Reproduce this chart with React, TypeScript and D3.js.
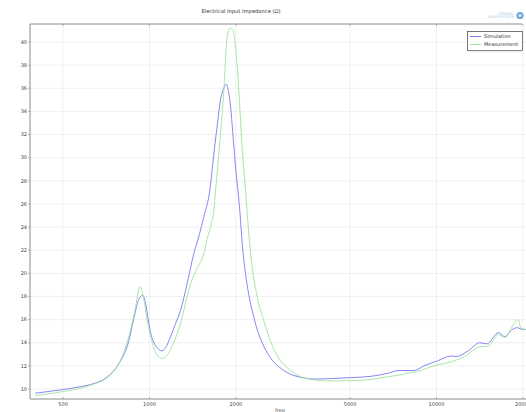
import React from "react";
import * as d3 from "d3";

const simFreq = [400, 450, 500, 560, 645, 700, 755, 800, 844, 880, 916, 947, 969, 990, 1011, 1048, 1106, 1140, 1183, 1230, 1283, 1352, 1427, 1490, 1547, 1623, 1677, 1730, 1768, 1820, 1853, 1885, 1917, 1960, 2000, 2066, 2107, 2160, 2220, 2300, 2376, 2440, 2577, 2717, 2830, 3030, 3460, 3750, 4300, 5000, 5930, 6750, 7400, 7716, 8340, 9050, 10000, 11250, 11700, 12900, 14150, 14950, 16450, 17350, 18000, 19070, 20000, 20500];
const simValues = [9.63, 9.8, 9.95, 10.15, 10.5, 10.9, 11.65, 12.6, 14.0, 16.0, 17.7, 18.1, 17.4, 16.0, 14.8, 13.8, 13.3, 13.6, 14.5, 15.6, 16.8, 19.1, 21.7, 23.3, 24.9, 27.2, 30.4, 33.2, 35.0, 36.1, 36.35, 35.7, 34.4, 31.5, 28.9, 25.3, 22.4, 20.0, 18.1, 16.4, 15.1, 14.3, 13.1, 12.3, 11.9, 11.4, 10.95, 10.86, 10.9, 10.98, 11.1, 11.35, 11.6, 11.6, 11.6, 12.0, 12.4, 12.85, 12.8, 13.3, 14.0, 13.9, 14.87, 14.5, 14.95, 15.3, 15.15, 15.15];

const measFreq = [400, 450, 500, 560, 645, 700, 755, 800, 844, 890, 927, 955, 981, 1011, 1048, 1106, 1150, 1183, 1283, 1390, 1470, 1547, 1590, 1631, 1677, 1700, 1760, 1819, 1860, 1910, 1950, 2025, 2107, 2163, 2193, 2254, 2376, 2509, 2717, 2870, 3030, 3190, 3460, 4170, 5000, 5930, 6750, 7400, 7900, 8500, 10000, 11250, 12500, 14150, 15100, 16450, 17350, 18200, 19230, 19700, 20500];
const measValues = [9.42, 9.6, 9.78, 10.0, 10.45, 10.85, 11.6, 12.7, 14.4, 16.8, 18.85, 17.8, 16.0, 14.5, 13.2, 12.65, 12.9, 13.4, 15.7, 19.1, 20.5, 21.7, 23.0, 24.0, 25.5, 27.2, 31.5, 36.1, 40.2, 41.2, 41.1, 37.6, 30.6, 27.0, 25.0, 21.6, 17.9, 15.8, 13.4, 12.4, 11.8, 11.4, 10.95, 10.7, 10.72, 10.83, 11.06, 11.2, 11.35, 11.5, 12.07, 12.35, 12.8, 13.65, 13.7, 14.7, 14.47, 15.25, 16.0, 15.25, 15.15];

const xTicks = [500, 1000, 2000, 5000, 10000, 20000];
const yTicks = [10, 12, 14, 16, 18, 20, 22, 24, 26, 28, 30, 32, 34, 36, 38, 40];
const seriesNames = ["Simulation", "Measurement"];
const titleText = "Electrical Input Impedance (\u03A9)";
const xLabel = "freq";

const W = 526;
const H = 412;
const left = 30;
const right = 526;
const top = 24;
const bottom = 399;

export default function App() {
  const x = d3.scaleLog().domain([383.5, 20500]).range([left, right]);
  const y = d3.scaleLinear().domain([9.135, 41.56]).range([bottom, top]);

  const line = d3
    .line<[number, number]>()
    .x((d) => x(d[0]))
    .y((d) => y(d[1]))
    .curve(d3.curveMonotoneX);

  const sim = simFreq.map((f, i) => [f, simValues[i]] as [number, number]);
  const meas = measFreq.map((f, i) => [f, measValues[i]] as [number, number]);

  const font = "DejaVu Sans, sans-serif";
  const colors = ["#7878f4", "#9de39d"];

  return (
    <svg
      width={W}
      height={H}
      style={{ position: "absolute", left: 0, top: 0, background: "#fff" }}
      fontFamily={font}
    >
      <rect x={0} y={0} width={W} height={H} fill="#fff" />
      {/* title */}
      <text x={241} y={13} fontSize={5.2} textAnchor="middle" fill="#333">
        {titleText}
      </text>
      {/* logo */}
      <text x={514} y={14.5} fontSize={3.6} textAnchor="end" fill="#a9c9e8">
        COMSOL
      </text>
      <text x={514} y={18.3} fontSize={3.6} textAnchor="end" fill="#a9c9e8">
        MULTIPHYSICS
      </text>
      <circle cx={520} cy={15.5} r={3.6} fill="#6aa6d8" />
      <circle cx={520} cy={15.5} r={1.6} fill="#d8eaf8" />

      {/* grid */}
      {yTicks.map((t) => (
        <line key={"gy" + t} x1={left} x2={right} y1={y(t)} y2={y(t)} stroke="#ececec" strokeWidth={0.8} />
      ))}
      {xTicks.map((t) => (
        <line key={"gx" + t} x1={x(t)} x2={x(t)} y1={top} y2={bottom} stroke="#ececec" strokeWidth={0.8} />
      ))}

      {/* curves */}
      <path d={line(sim) || ""} fill="none" stroke={colors[0]} strokeWidth={0.9} />
      <path d={line(meas) || ""} fill="none" stroke={colors[1]} strokeWidth={0.9} />

      {/* frame */}
      <line x1={left} x2={left} y1={top} y2={bottom} stroke="#8a8a8a" strokeWidth={1} />
      <line x1={left} x2={right} y1={bottom} y2={bottom} stroke="#8a8a8a" strokeWidth={1} />
      <line x1={left} x2={522} y1={top} y2={top} stroke="#8a8a8a" strokeWidth={1} />

      {/* y ticks */}
      {yTicks.map((t) => (
        <g key={"ty" + t}>
          <line x1={left - 2} x2={left} y1={y(t)} y2={y(t)} stroke="#8a8a8a" strokeWidth={0.6} />
          <text x={27} y={y(t) + 1.7} fontSize={5} textAnchor="end" fill="#444">
            {t}
          </text>
        </g>
      ))}
      {/* x ticks */}
      {xTicks.map((t) => (
        <g key={"tx" + t}>
          <line x1={x(t)} x2={x(t)} y1={bottom - 2} y2={bottom} stroke="#8a8a8a" strokeWidth={0.6} />
          <line x1={x(t)} x2={x(t)} y1={top} y2={top + 2} stroke="#8a8a8a" strokeWidth={0.6} />
          <text x={x(t)} y={405.5} fontSize={5} textAnchor="middle" fill="#444">
            {t}
          </text>
        </g>
      ))}
      <text x={280} y={412} fontSize={5} textAnchor="middle" fill="#444">
        {xLabel}
      </text>

      {/* legend */}
      <rect x={467.5} y={31.5} width={55} height={19} fill="#fff" stroke="#555" strokeWidth={0.8} />
      <line x1={468.5} x2={523} y1={51} y2={51} stroke="#bbb" strokeWidth={0.6} />
      {seriesNames.map((n, i) => (
        <g key={n}>
          <line x1={470} x2={481} y1={36.5 + i * 8} y2={36.5 + i * 8} stroke={colors[i]} strokeWidth={1} />
          <text x={484} y={38.2 + i * 8} fontSize={5} fill="#333">
            {n}
          </text>
        </g>
      ))}
    </svg>
  );
}
